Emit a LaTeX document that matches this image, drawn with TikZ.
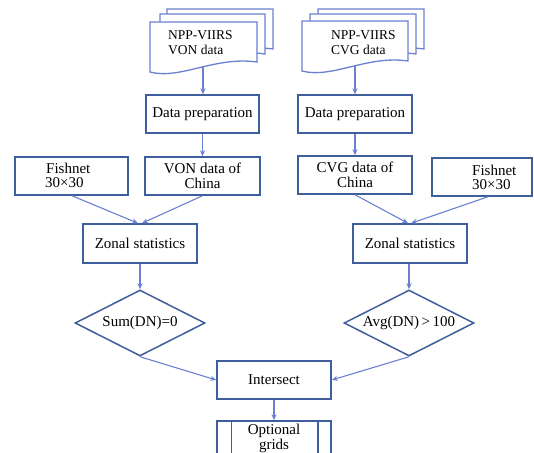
\documentclass[tikz,border=0pt]{standalone}
\usepackage{fontspec}
\setmainfont{Liberation Serif}
\usetikzlibrary{shapes.geometric,arrows.meta}
\definecolor{boxblue}{HTML}{3F5E9C}
\definecolor{arrblue}{HTML}{6C80D2}
\tikzset{
  boxst/.style={draw=boxblue,line width=1.5pt,fill=white,minimum height=38pt,inner sep=0pt,align=center,font=\fontsize{15}{15}\selectfont},
  diast/.style={diamond,aspect=2,draw=boxblue,line width=1.5pt,fill=white,inner sep=0pt,minimum width=130pt,minimum height=66pt,font=\fontsize{15}{15}\selectfont},
  docst/.style={draw=arrblue,line width=1.3pt,fill=white},
  doctext/.style={anchor=west,inner sep=0pt,font=\fontsize{13.5}{13.5}\selectfont},
  fntext/.style={anchor=west,inner sep=0pt,font=\fontsize{15}{15}\selectfont},
  ogtext/.style={inner sep=0pt,align=center,font=\fontsize{15}{15}\selectfont},
  arr/.style={draw=arrblue,line width=1.1pt,-{Stealth[length=6pt,width=5pt]}}
}
\newcommand{\mydoc}[3]{%
  \path[docst] (#1,#2) -- (#3,#2) -- (#3,#2+40)
    .. controls (#1+65,#2+34) and (#1+30,#2+58) .. (#1,#2+50) -- cycle;}
\begin{document}
\begin{tikzpicture}[x=1pt,y=-1pt]
\useasboundingbox (0,0) rectangle (534,452);
\clip (0,0) rectangle (534,452);
\fill[white] (0,0) rectangle (534,452);
% documents
\mydoc{167}{9}{273}
\mydoc{160}{14}{265}
\mydoc{150}{22}{257}
\mydoc{318}{9}{424}
\mydoc{310}{14}{416}
\mydoc{302}{21}{408}
\node[doctext] (t1) at (168,35) {NPP-VIIRS};
\node[doctext] (t2) at (168,50) {VON data};
\node[doctext] (t3) at (331,35) {NPP-VIIRS};
\node[doctext] (t4) at (331,50) {CVG data};
\coordinate (docL) at (203,66);
\coordinate (docR) at (355,65);
% boxes
\node[boxst,minimum width=113pt] (dp1) at (202.5,114) {Data preparation};
\node[boxst,minimum width=114pt] (dp2) at (355,114) {Data preparation};
\node[boxst,minimum width=113pt] (fn1) at (71.5,176) {};
\node[boxst,minimum width=115pt] (von) at (202.5,176) {VON data of\\China};
\node[boxst,minimum width=114pt] (cvg) at (355,175) {CVG data of\\China};
\node[boxst,minimum width=100pt] (fn2) at (482,177) {};
\node[fntext] (f1a) at (46,168.5) {Fishnet};
\node[fntext] (f1b) at (45,183) {30×30};
\node[fntext] (f2a) at (472,170) {Fishnet};
\node[fntext] (f2b) at (472,184.5) {30×30};
\node[boxst,minimum width=114pt,minimum height=39pt] (zs1) at (140,243.5) {Zonal statistics};
\node[boxst,minimum width=114pt,minimum height=39pt] (zs2) at (410,243.5) {Zonal statistics};
\node[diast] (d1) at (140,323) {Sum(DN)=0};
\node[diast] (d2) at (409,323) {Avg(DN)\,>\,100};
\node[boxst,minimum width=114pt] (is) at (274,380) {Intersect};
\node[boxst,minimum width=114pt,minimum height=42pt] (og) at (274,442) {};
\node[ogtext] (ogt) at (274,438) {Optional\\grids};
\draw[boxblue,line width=1.5pt] ([xshift=15pt]og.north west) -- ([xshift=15pt]og.south west);
\draw[boxblue,line width=1.5pt] ([xshift=-14pt]og.north east) -- ([xshift=-14pt]og.south east);
% connectors
\draw[arr] (docL) -- (dp1.north -| docL);
\draw[arr] (docR) -- (dp2.north -| docR);
\draw[arr] (dp1) -- (von);
\draw[arr] (dp2) -- (cvg);
\draw[arr] ([xshift=0.5pt]fn1.south) -- ([xshift=-2pt]zs1.north);
\draw[arr] (von.south) -- ([xshift=2pt]zs1.north);
\draw[arr] (cvg.south) -- ([xshift=-2pt]zs2.north);
\draw[arr] ([xshift=6pt]fn2.south) -- ([xshift=1pt]zs2.north);
\draw[arr] (zs1.south) -- (d1.north);
\draw[arr] (zs2.south -| d2.north) -- (d2.north);
\draw[arr] (d1.south) -- (is.west);
\draw[arr] (d2.south) -- (is.east);
\draw[arr] (is) -- (og);
\end{tikzpicture}
\end{document}
